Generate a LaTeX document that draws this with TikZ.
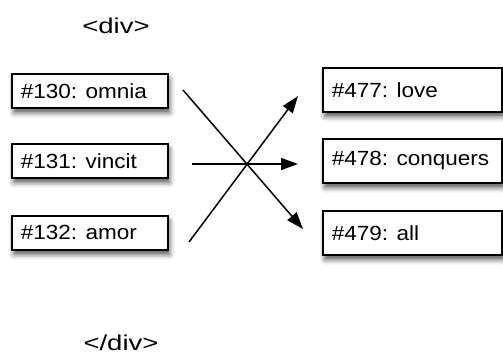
\documentclass[tikz,border=0pt]{standalone}
\usepackage{fontspec}
\setmainfont{Liberation Sans}
\newfontfamily\boxfont[FakeStretch=1.1]{Liberation Sans}
\newfontfamily\divfont[FakeStretch=1.28]{Liberation Sans}
\usetikzlibrary{arrows.meta,shadows.blur}
\newcommand{\boxtext}[2]{\makebox[#1][l]{#2}}
\begin{document}
\begin{tikzpicture}[x=1pt,y=-1pt,
  item/.style={draw=black, line width=1.5pt, fill=white, anchor=north west,
    minimum height=34pt, inner xsep=9pt, inner ysep=0pt,
    font=\boxfont\fontsize{20.5}{23}\selectfont,
    blur shadow={shadow xshift=2pt, shadow yshift=-5pt, shadow blur radius=5pt, shadow opacity=65}},
  litem/.style={item, minimum width=156pt},
  ritem/.style={item, minimum width=179pt, minimum height=44pt},
  tag/.style={font=\divfont\fontsize{21.5}{25}\selectfont, anchor=base, inner sep=0pt},
  link/.style={line width=1.5pt, -{Triangle[length=17pt,width=12pt]}}]
\useasboundingbox (0,0) rectangle (503,354);
\node[tag] (open) at (116,33) {<div>};
\node[tag] (close) at (121,350) {</div>};
\node[litem] (a1) at (11,73) {\boxtext{138pt}{\#130: omnia}};
\node[litem] (a2) at (11,143) {\boxtext{138pt}{\#131: vincit}};
\node[litem] (a3) at (11,215) {\boxtext{138pt}{\#132: amor}};
\node[ritem] (b1) at (322,67) {\boxtext{161pt}{\#477: love}};
\node[ritem] (b2) at (322,138) {\boxtext{161pt}{\#478: conquers}};
\node[ritem] (b3) at (322,210) {\boxtext{161pt}{\#479: all}};
\coordinate (s1) at (183,90);
\coordinate (e1) at (303,229);
\coordinate (s2) at (192,164);
\coordinate (e2) at (298,164);
\coordinate (s3) at (189,242);
\coordinate (e3) at (298,96);
\draw[link] (s1) -- (e1);
\draw[link] (s2) -- (e2);
\draw[link] (s3) -- (e3);
\end{tikzpicture}
\end{document}
